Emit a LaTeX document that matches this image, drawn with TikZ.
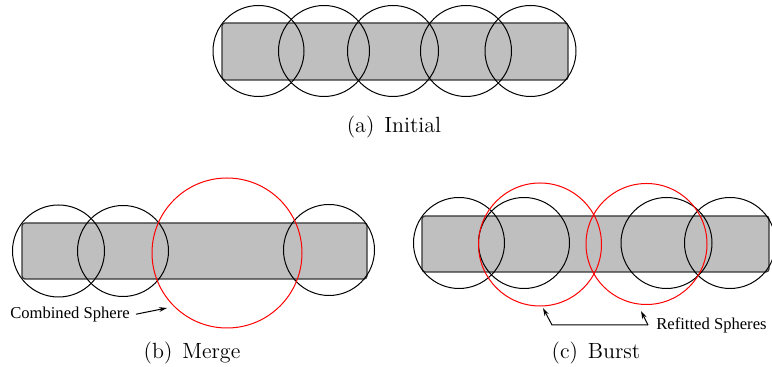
\documentclass[tikz,border=0pt]{standalone}
\usepackage{fontspec}
\newfontfamily\notefont{Liberation Serif}
\usetikzlibrary{positioning,arrows.meta}
\tikzset{
  bar/.style={draw=black!80, fill=black!25, line width=0.6pt, rounded corners=1.5pt},
  sphere/.style={draw=black, line width=0.5pt},
  refit/.style={sphere, draw=red},
  caption/.style={font=\fontsize{11}{13}\selectfont, inner sep=0pt},
  note/.style={font=\notefont\fontsize{8.3}{10}\selectfont, inner sep=1pt},
  pointer/.style={-{Stealth[length=4pt,width=2.4pt]}, line width=0.5pt},
}
\begin{document}
\begin{tikzpicture}[x=0.5pt, y=-0.5pt]
\useasboundingbox (0,0) rectangle (772,367);

% ---- (a) initial ----------------------------------------------------------
\draw[bar] (222,23) rectangle (568,80);
\foreach \cx in {258.5,324,393,466,530.5}
  \draw[sphere] (\cx,51) circle[radius=45.5];
\node[caption] (capa) at (394,127) {(a)\hspace{0.45em}Initial};

% ---- (b) merge ------------------------------------------------------------
\draw[bar] (22,223) rectangle (367,279);
\draw[sphere] (58.5,251) circle[radius=46];
\draw[sphere] (123,251) circle[radius=45.5];
\draw[sphere] (329,250) circle[radius=45.5];
\draw[refit] (227,253) circle[radius=75];
\node[note] (combined) at (70,315) {Combined Sphere};
\coordinate (ctip) at (167,308);
\draw[pointer, shorten <=2pt] (combined.east) -- (ctip);
\node[caption] (capb) at (192,353) {(b)\hspace{0.45em}Merge};

% ---- (c) burst ------------------------------------------------------------
\draw[bar] (422,216) rectangle (769,272);
\foreach \cx in {459,524,666.5,730}
  \draw[sphere] (\cx,243) circle[radius=45.5];
\draw[refit] (540,244.5) circle[radius=61.5];
\draw[refit] (646.5,244) circle[radius=60.5];
\coordinate (lfoot) at (552,325);
\coordinate (rfoot) at (648,325);
\coordinate (ltip) at (543,308);
\coordinate (rtip) at (641,311);
\draw[pointer] (rfoot) -- (lfoot) -- (ltip);
\draw[pointer] (rfoot) -- (rtip);
\node[note, right=3pt of rfoot, anchor=west] (refitted) {Refitted Spheres};
\node[caption] (capc) at (596,353) {(c)\hspace{0.45em}Burst};

\end{tikzpicture}
\end{document}
